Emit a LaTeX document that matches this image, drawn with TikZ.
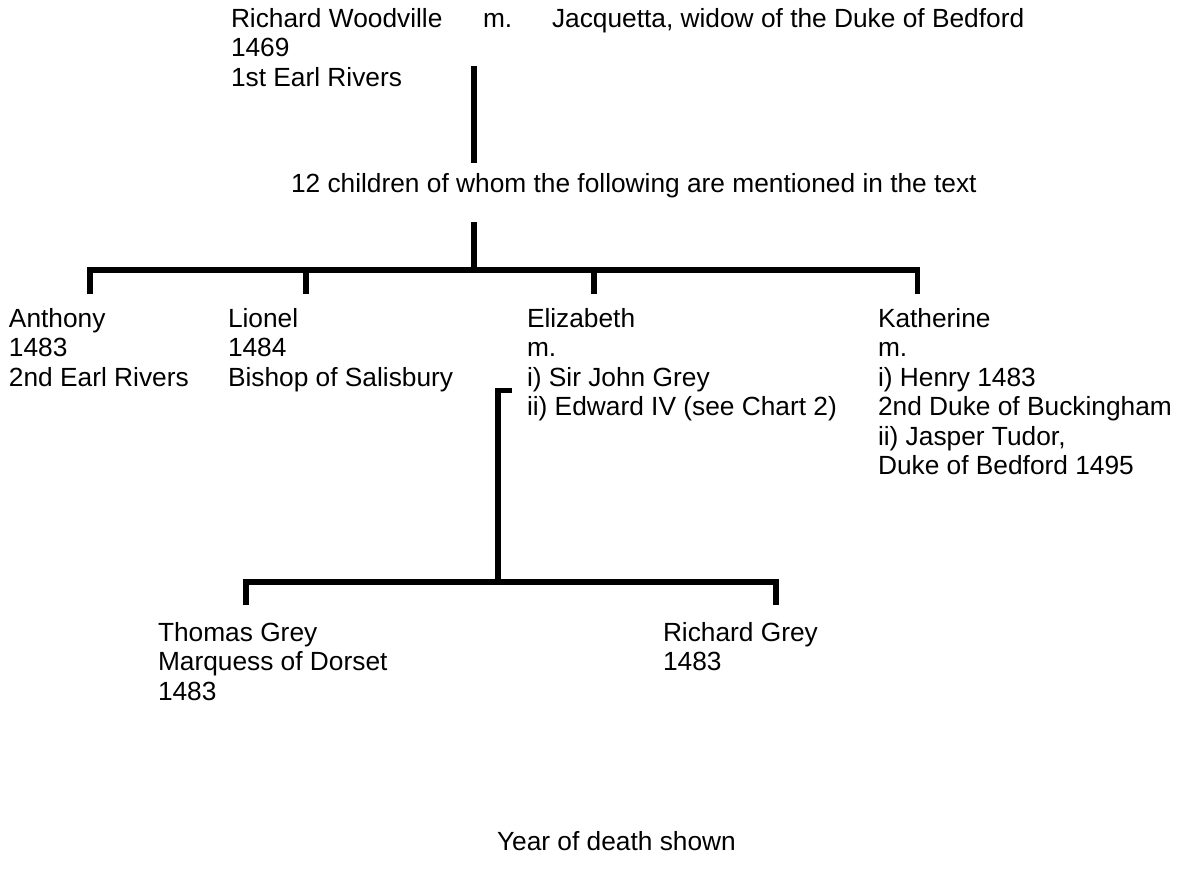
\documentclass[tikz,border=0pt]{standalone}
\usepackage{fontspec}
\setmainfont{Liberation Sans}
\newcommand\stack[1]{\begin{tabular}[t]{@{}l@{}}#1\end{tabular}}
\begin{document}
\begin{tikzpicture}[x=1pt,y=-1pt,
  lbl/.style={anchor=base west,inner sep=0pt,outer sep=0pt,
    font=\fontsize{26.3}{29.5}\selectfont},
  link/.style={line width=5.3pt,line join=miter,line cap=butt,draw=black}]
\useasboundingbox (0,0) rectangle (1183,873);
% texts
\node[lbl] (richard) at (231,27) {\stack{Richard Woodville\\1469\\1st Earl Rivers}};
\node[lbl] (marr) at (483,27) {m.};
\node[lbl] (jacq) at (552,27) {Jacquetta, widow of the Duke of Bedford};
\node[lbl] (kids) at (291,192) {12 children of whom the following are mentioned in the text};
\node[lbl] (anthony) at (9,327) {\stack{Anthony\\1483\\2nd Earl Rivers}};
\node[lbl] (lionel) at (228,327) {\stack{Lionel\\1484\\Bishop of Salisbury}};
\node[lbl] (elizabeth) at (527,327) {\stack{Elizabeth\\m.\\i) Sir John Grey\\ii) Edward IV (see Chart 2)}};
\node[lbl] (katherine) at (878,327) {\stack{Katherine\\m.\\i) Henry 1483\\2nd Duke of Buckingham\\ii) Jasper Tudor,\\Duke of Bedford 1495}};
\node[lbl] (thomas) at (158,641) {\stack{Thomas Grey\\Marquess of Dorset\\1483}};
\node[lbl] (rgrey) at (663,641) {\stack{Richard Grey\\1483}};
\node[lbl] (note) at (497,850) {Year of death shown};
% connector points
\coordinate (pTop) at (474,66);
\coordinate (pBot) at (474,162.5);
\coordinate (kTop) at (474,222);
\coordinate (bar) at (474,270);
\coordinate (dA) at (90,294);
\coordinate (dL) at (306,294);
\coordinate (dE) at (594,294);
\coordinate (dK) at (917.5,294);
\coordinate (hook) at (512,390.2);
\coordinate (gbar) at (497.9,582);
\coordinate (dT) at (246,605);
\coordinate (dR) at (776,605);
% connectors
\draw[link] (pTop) -- (pBot);
\draw[link] (kTop) -- (bar);
\draw[link] (dA) -- (dA |- bar) -- (dK |- bar) -- (dK);
\draw[link] (dL |- bar) -- (dL);
\draw[link] (dE |- bar) -- (dE);
\draw[link] (hook) -- (gbar |- hook) -- (gbar);
\draw[link] (dT) -- (dT |- gbar) -- (dR |- gbar) -- (dR);
\end{tikzpicture}
\end{document}
